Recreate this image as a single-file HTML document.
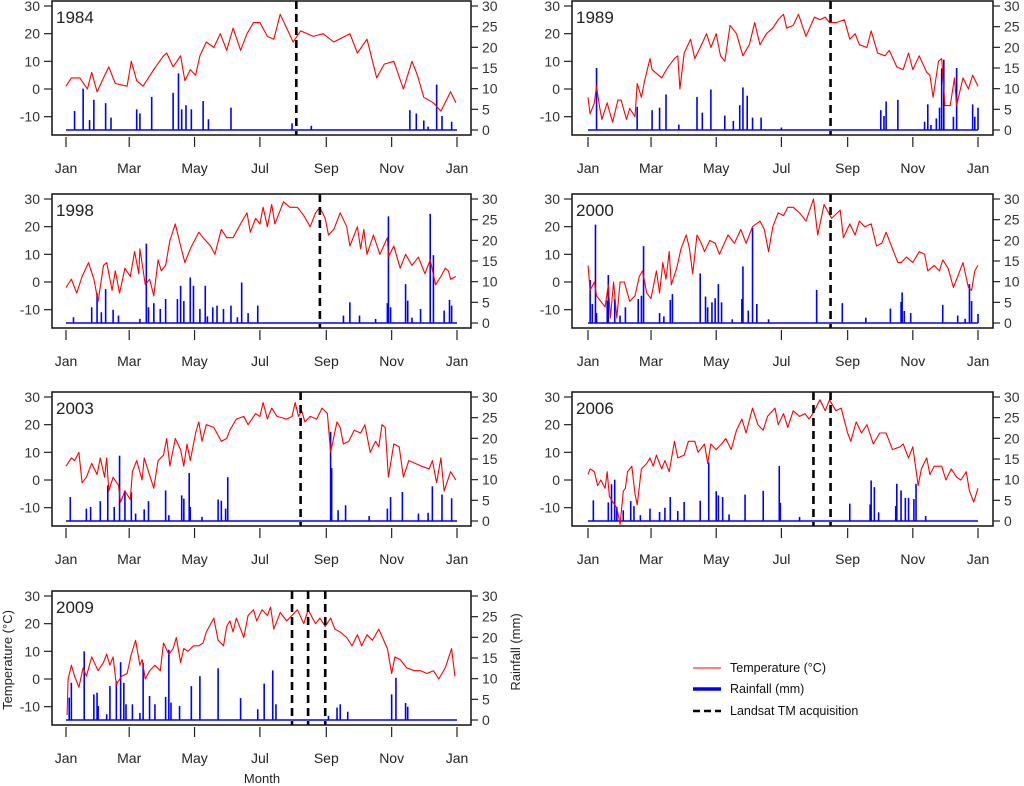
<!DOCTYPE html>
<html><head><meta charset="utf-8">
<style>
html,body{margin:0;padding:0;background:#fff;}
svg{display:block;font-family:"Liberation Sans",sans-serif;}
</style></head>
<body>
<svg id="chart" width="1024" height="786" viewBox="0 0 1024 786" xmlns="http://www.w3.org/2000/svg">
<text x="0" y="0" transform="translate(12,660) rotate(-90)" text-anchor="middle" font-size="13" fill="#222">Temperature (°C)</text>
<text x="0" y="0" transform="translate(520,652) rotate(-90)" text-anchor="middle" font-size="13" fill="#222">Rainfall (mm)</text>
<text x="262" y="783" text-anchor="middle" font-size="13" fill="#222">Month</text>
<g>
<line x1="693" y1="668" x2="721" y2="668" stroke="#f00" stroke-width="1"/>
<text x="730" y="672" font-size="12.5" fill="#111">Temperature (°C)</text>
<line x1="693" y1="689" x2="721" y2="689" stroke="#00f" stroke-width="3.5"/>
<text x="730" y="693" font-size="12.5" fill="#111">Rainfall (mm)</text>
<line x1="693" y1="711" x2="721" y2="711" stroke="#000" stroke-width="2.5" stroke-dasharray="7,4"/>
<text x="730" y="715" font-size="12.5" fill="#111">Landsat TM acquisition</text>
</g>
</svg>
<script>
const years = ["1984","1989","1998","2000","2003","2006","2009"];
const tDays1984=[0,5,13,20,24,29,35,40,46,57,61,66,72,82,91,94,100,107,111,116,121,125,131,138,144,150,156,163,169,175,181,188,194,200,206,212,219,231,240,250,265,272,281,290,297,306,315,323,328,334,343,350,359,364];
const temp1984=[1,4,4,0,6,-1,4,8,2,1,10,3,1,7,12,13,8,12,3,7,5,12,17,15,20,14,22,14,20,24,24,19,18,27,22,17,21,19,20,17,20,13,18,4,9,10,0,10,5,-3,-5,-8,-1,-5];
const rDays1984=[8,16,22,26,37,42,66,69,80,100,105,108,112,117,128,133,154,211,229,321,327,334,338,346,351,360];
const rain1984=[4.6,10,2.4,7.3,6.5,3,5,4,8,9,13.7,5,6,5,7,2.6,5.4,1.6,1,4.8,4,2.3,0.8,11,3.4,2];
const tDays1989=[0,2,6,8,11,13,18,20,23,28,31,36,39,44,46,50,53,58,60,66,69,75,81,84,86,90,96,100,105,111,115,120,124,128,133,139,145,151,156,161,167,173,178,183,186,192,197,204,212,217,222,226,232,240,245,250,254,261,265,271,278,282,289,295,300,304,310,317,320,323,328,331,334,339,343,345,351,356,360,365];
const temp1989=[-3,-9,-5,1,-7,-11,-5,-8,-12,-4,-4,-11,-7,-10,2,-3,3,11,7,5,4,8,11,12,0,13,18,11,15,20,15,20,12,10,23,20,12,16,24,16,20,22,25,27,22,23,27,19,26,25,26,24,24,25,18,20,16,15,21,13,12,14,8,7,13,7,12,6,5,-3,10,11,-6,-6,4,-6,4,0,5,1];
const rDays1989=[8,46,60,67,73,85,102,107,115,128,136,142,145,149,154,162,181,274,277,279,290,315,318,321,326,329,331,333,342,345,360,362,365];
const rain1989=[15,5.6,4.8,5.4,8.6,1.3,8,4.2,9.8,3.5,2.2,6,10.3,8.3,3,3,0.6,4.8,3.4,6.9,7.3,2,6.2,1.2,2.8,5.4,14.9,17,3.2,15,6.2,3.2,5.4];
const tDays1998=[0,5,10,15,21,26,30,35,38,43,46,50,55,60,64,68,69,74,78,82,86,89,93,97,102,107,111,116,124,128,135,139,145,150,156,163,169,172,177,181,184,188,192,195,203,209,216,222,228,233,237,242,245,250,256,262,265,272,275,278,281,287,293,300,301,306,312,317,323,329,335,340,345,350,354,357,359,364];
const temp1998=[-2,1,-4,2,7,1,-7,6,7,-3,4,-4,5,2,11,3,12,-1,1,-5,8,4,6,15,21,13,7,12,18,16,13,10,19,16,16,21,25,18,23,21,27,20,28,21,29,27,27,24,20,25,27,23,17,19,25,20,13,20,12,19,10,17,10,16,9,13,5,10,6,9,3,8,-1,2,5,4,1,2];
const rDays1998=[7,24,29,33,37,44,49,69,75,77,82,88,93,104,107,110,116,119,125,130,132,137,141,147,154,160,164,170,179,259,265,274,289,300,301,303,317,319,323,331,340,343,353,358,360];
const rain1998=[1.4,3.8,7.2,2.6,8.2,3.2,1.8,1,19.2,3.8,4.8,3.4,5.8,5.8,9,5.3,11,9,3.4,9,1.6,3.8,4.2,3.4,4.2,1.4,9.8,2.4,4.2,1.8,5,1.8,1,4.8,25.8,3.8,9.4,5.4,1.3,3.4,26.4,16.4,3,5.6,4.2];
const tDays2000=[0,2,6,8,12,16,19,21,24,27,30,34,39,44,48,51,55,59,64,67,70,73,76,78,83,87,92,95,98,102,106,109,114,119,123,131,137,143,148,154,161,165,169,173,178,183,187,192,198,204,211,215,221,228,236,239,245,250,254,259,265,270,275,279,285,290,293,298,304,310,315,318,324,329,332,337,342,346,351,356,359,362,365];
const temp2000=[6,-3,0,-5,-7,-9,-1,-13,0,-13,0,0,-7,-5,2,4,-4,-6,4,-4,7,1,11,-1,5,12,17,12,3,17,14,11,15,14,10,17,14,19,14,20,22,19,11,20,25,24,27,27,25,22,30,17,28,23,26,16,21,17,22,20,21,13,14,18,12,7,7,9,7,11,10,4,6,4,8,5,-2,2,7,-2,-3,4,6];
const rDays2000=[2,4,7,8,18,19,25,30,35,47,50,52,67,71,77,79,105,110,112,116,119,122,125,135,144,145,150,154,158,169,214,238,260,283,293,294,296,302,332,346,353,357,359,365];
const rain2000=[10.4,4.6,23.8,2.4,5.4,11.6,5.8,1.8,3.8,5.8,6.6,18.6,2.4,1.6,5.6,7,12,6.4,3.8,5,6,9.4,5,0.9,5.8,13.7,3,23,4.6,0.9,8,4.8,1.3,3.5,5.1,7.4,2.9,2.4,4.4,1.8,1,9.4,5.3,2.2];
const tDays2003=[0,5,8,12,15,19,24,29,32,36,38,40,44,49,51,55,60,62,66,71,73,77,82,86,91,94,97,102,107,110,113,116,121,124,127,131,138,145,150,153,159,166,170,177,181,184,188,192,197,206,211,214,217,220,223,228,234,239,244,247,253,256,259,264,269,275,279,284,289,292,295,298,301,306,311,315,320,326,332,339,342,346,350,353,359,364];
const temp2003=[5,8,7,10,-1,1,6,2,8,1,8,-4,1,-2,-8,-4,-7,3,7,0,8,3,-3,7,9,15,5,15,11,5,13,7,17,21,14,20,19,14,15,18,22,23,20,24,23,28,22,26,23,22,23,28,23,25,21,23,22,26,24,10,21,19,13,14,18,17,20,10,14,12,20,19,1,13,12,1,7,6,5,4,7,-1,8,-4,3,0];
const rDays2003=[4,19,23,32,39,45,50,55,61,65,73,77,93,96,108,110,115,116,127,142,145,149,151,247,248,254,261,283,300,303,314,329,338,342,351,360];
const rain2003=[5.8,3,3.4,4.8,8.6,3.4,15.8,7.4,7,1.8,2.8,4.8,7.4,1.4,6.2,5.4,11.6,3.4,1,5.2,4.9,3,10.6,21.6,12.8,2.6,3.8,1.2,3,5.8,7,1.8,2,8.4,6.4,5.5];
const tDays2006=[0,2,6,9,12,16,18,20,25,27,30,33,35,37,41,44,46,50,55,58,61,64,69,72,76,81,84,90,94,100,103,109,112,115,120,125,129,134,139,144,148,154,159,164,168,175,178,183,187,192,198,203,207,212,217,222,226,232,237,243,246,251,256,261,267,273,279,285,292,295,300,304,309,312,317,320,324,331,335,340,345,349,354,357,361,365];
const temp2006=[2,4,3,-2,0,-3,3,-6,-9,-10,-16,-4,-3,3,5,-5,-9,4,6,8,5,9,4,7,3,14,8,9,14,14,10,13,6,13,11,13,15,11,18,22,17,26,20,18,23,26,20,24,19,25,23,24,22,25,29,25,29,25,26,17,14,21,17,20,13,17,17,11,12,13,8,12,-2,4,8,2,5,5,0,4,1,0,3,-4,-8,-3];
const rDays2006=[5,19,22,25,27,33,40,43,49,58,67,72,77,84,90,105,113,120,122,126,132,147,164,179,180,198,245,264,265,268,272,288,289,293,297,300,305,307,316];
const rain2006=[5,4.5,8.9,10,3.4,2.6,4.8,3.6,1.4,3,2.2,3.2,5.8,2.4,4.6,4.9,14.2,7.2,6.2,5.8,1.6,6.4,7.3,13.3,4.4,1,4.2,4,9.8,8.2,2.1,3.6,9,7.4,5.6,5.6,5.3,9,1.2];
const tDays2009=[1,2,5,8,12,16,19,24,30,35,38,41,44,47,52,57,61,65,69,71,74,78,83,88,91,96,100,103,107,110,114,119,124,128,131,138,142,147,150,153,156,159,166,170,175,178,183,188,191,194,200,206,211,216,222,226,233,237,242,247,251,256,262,267,272,276,281,286,292,300,304,307,312,318,325,331,337,343,348,354,360,363];
const temp2009=[-13,0,5,1,-3,4,1,8,3,6,9,5,8,-2,1,2,9,14,5,7,0,3,5,3,13,9,11,15,6,11,10,12,12,13,17,22,14,12,19,21,17,22,15,23,25,21,25,23,26,18,24,21,23,25,20,25,20,22,19,22,18,17,15,12,16,12,16,14,18,11,2,8,7,4,3,3,2,3,0,4,11,1];
const rDays2009=[3,5,17,26,29,30,38,41,47,51,54,56,62,69,72,78,83,93,96,98,106,117,125,142,163,179,185,193,196,245,253,256,263,304,308,317,319];
const rain2009=[5.4,9,16.6,6.2,6.6,3.4,1.4,8.2,9.4,14,9,3.8,3.8,1.7,13.8,5.8,3.8,5.6,17,4.2,3.4,8.2,10.6,12.5,5.3,2.6,8.8,12,3.8,1,3,3.8,2,6.2,10.2,4.1,3.2];
const landsat1984=[215], landsat1989=[227], landsat1998=[237], landsat2000=[227], landsat2003=[219], landsat2006=[211,227], landsat2009=[211,226,242];
const tempTicks=[30,20,10,0,-10];
const rainTicks=[0,5,10,15,20,25,30];
const monthLabels=["Jan","Mar","May","Jul","Sep","Nov","Jan"];
const monthDays=[0,59,120,181,243,304,365];

const data={
 "1984":[tDays1984,temp1984,rDays1984,rain1984,landsat1984],
 "1989":[tDays1989,temp1989,rDays1989,rain1989,landsat1989],
 "1998":[tDays1998,temp1998,rDays1998,rain1998,landsat1998],
 "2000":[tDays2000,temp2000,rDays2000,rain2000,landsat2000],
 "2003":[tDays2003,temp2003,rDays2003,rain2003,landsat2003],
 "2006":[tDays2006,temp2006,rDays2006,rain2006,landsat2006],
 "2009":[tDays2009,temp2009,rDays2009,rain2009,landsat2009]
};
// layout
const colGeom=[{bl:52,br:471,x0:66,x1:457},{bl:572,br:993,x0:588,x1:978}];
const rowTop=[6,199,397,596];
const layout={"1984":[0,0],"1989":[1,0],"1998":[0,1],"2000":[1,1],"2003":[0,2],"2006":[1,2],"2009":[0,3]};
const NS="http://www.w3.org/2000/svg";
const svg=document.getElementById("chart");
function mk(tag,attrs,parent){const e=document.createElementNS(NS,tag);for(const k in attrs)e.setAttribute(k,attrs[k]);(parent||svg).appendChild(e);return e;}

years.forEach(function(yr){
 const c=colGeom[layout[yr][0]], y30=rowTop[layout[yr][1]];
 const d=data[yr];
 const xs=function(day){return c.x0+day*(c.x1-c.x0)/365;};
 const yt=function(t){return y30+(30-t)*83/30;};
 const yr_=function(mm){return y30+124-mm*124/30;};
 const top=y30-5, bot=y30+129;
 const g=mk("g",{});
 
 
 // rainfall baseline
 const base=mk("line",{x1:xs(0),x2:xs(365),y1:yr_(0),y2:yr_(0),stroke:"#00f","stroke-width":1.6},g);
 
 
 // rainfall bars
 d[2].forEach(function(day,i){
  const b=mk("line",{x1:xs(day),x2:xs(day),y1:yr_(0),y2:yr_(d[3][i]),stroke:"#00f","stroke-width":1.6},g);
  
  
 });
 // temperature line
 let p="";
 const n=Math.min(d[0].length,d[1].length);
 for(let i=0;i<n;i++){p+=(i?"L":"M")+xs(d[0][i]).toFixed(1)+","+yt(d[1][i]).toFixed(1);}
 const tl=mk("path",{d:p,fill:"none",stroke:"#f00","stroke-width":1.1,"stroke-linejoin":"round"},g);
 
 
 // landsat lines
 d[4].forEach(function(day){
  const l=mk("line",{x1:xs(day),x2:xs(day),y1:top,y2:bot,stroke:"#000","stroke-width":2.6,"stroke-dasharray":"8,5"},g);
  
  
 });
 // box
 const box=mk("rect",{x:c.bl,y:top,width:c.br-c.bl,height:bot-top,fill:"none",stroke:"#111","stroke-width":1.5},g);
 
 
 // year label
 const lab=mk("text",{x:c.bl+4,y:y30+17,"font-size":17,fill:"#222"},g);
 lab.textContent=yr;
 
 
 // left ticks
 tempTicks.forEach(function(t){
  const tk=mk("line",{x1:c.bl-8,x2:c.bl,y1:yt(t),y2:yt(t),stroke:"#222","stroke-width":1.2},g);
  
  
  const tx=mk("text",{x:c.bl-12,y:yt(t)+5,"text-anchor":"end","font-size":14,fill:"#333"},g);
  tx.textContent=t;
  
  
 });
 // right ticks
 rainTicks.forEach(function(r){
  const tk=mk("line",{x1:c.br,x2:c.br+7,y1:yr_(r),y2:yr_(r),stroke:"#222","stroke-width":1.2},g);
  
  
  const tx=mk("text",{x:c.br+11,y:yr_(r)+5,"font-size":14,fill:"#333"},g);
  tx.textContent=r;
  
  
 });
 // x ticks
 monthDays.forEach(function(md,i){
  const tk=mk("line",{x1:xs(md),x2:xs(md),y1:bot+2,y2:bot+12,stroke:"#222","stroke-width":1.2},g);
  
  
  const tx=mk("text",{x:xs(md),y:bot+38,"text-anchor":"middle","font-size":14,fill:"#222"},g);
  tx.textContent=monthLabels[i];
  
  
 });
});
</script>
</body></html>
